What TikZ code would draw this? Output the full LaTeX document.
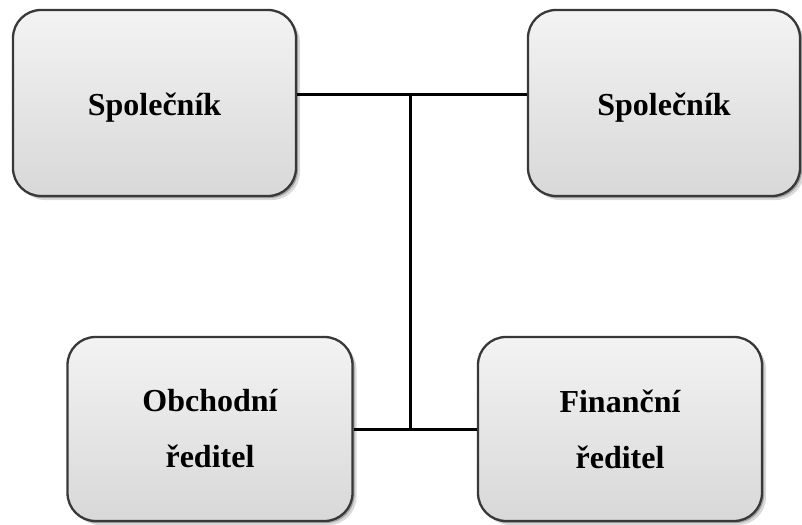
\documentclass[tikz,border=0pt]{standalone}
\usepackage{fontspec}
\setmainfont{Liberation Serif}
\usetikzlibrary{positioning,shadows}
\definecolor{boxline}{HTML}{383838}
\definecolor{boxtop}{HTML}{F3F3F3}
\definecolor{boxbottom}{HTML}{D8D8D8}

\begin{document}
\begin{tikzpicture}[x=1pt,y=-1pt,
	orgbox/.style={rectangle,rounded corners=28pt,draw=boxline,line width=2.3pt,top color=boxtop,bottom color=boxbottom,align=center,font=\fontsize{32}{56}\selectfont\bfseries,
		drop shadow={shadow xshift=4pt,shadow yshift=-4pt,opacity=0.15,fill=black},
		drop shadow={shadow xshift=2pt,shadow yshift=-2pt,opacity=0.25,fill=black}},
	onebox/.style={orgbox,text height=30pt,text depth=4pt},
	link/.style={line width=3pt,black}]
		\useasboundingbox (0,0) rectangle (802,524);
		\node[onebox,minimum width=283pt,minimum height=186pt] (spolecnikl) at (154.5,103) {Společník};
		\node[onebox,minimum width=272pt,minimum height=186pt] (spolecnikr) at (664,103) {Společník};
		\node[orgbox,minimum width=285pt,minimum height=184pt] (obchodni) at (210,429) {Obchodní\\ředitel};
		\node[orgbox,minimum width=284pt,minimum height=184pt] (financni) at (620,429) {Finanční\\ředitel};
		\coordinate (jtop) at (410,95);
		\coordinate (jbot) at (410,429);
		\draw[link] (spolecnikl.east |- jtop) -- (spolecnikr.west |- jtop);
		\draw[link] (jtop) -- (jbot);
		\draw[link] (obchodni) -- (financni);
	\end{tikzpicture}
\end{document}
